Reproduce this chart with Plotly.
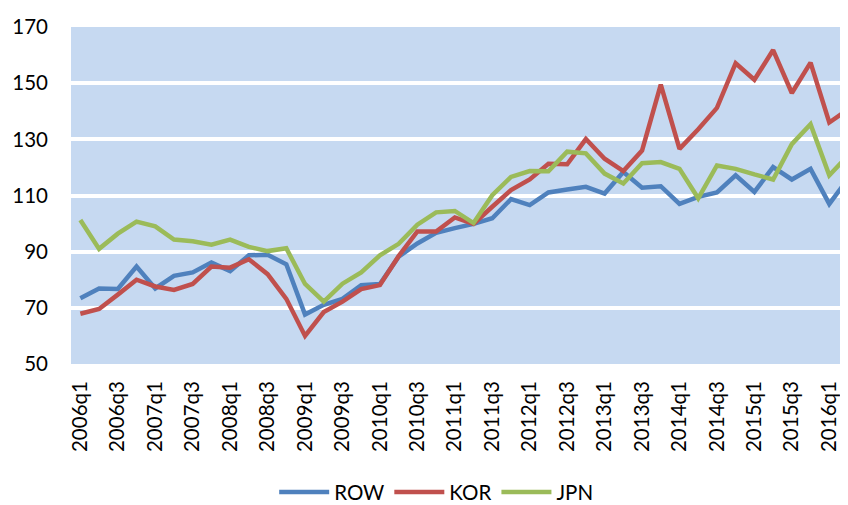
import plotly.graph_objects as go

quarters = [f"{y}q{q}" for y in range(2006, 2017) for q in range(1, 5)][:42]

row = [73.4, 76.9, 76.7, 84.7, 76.9, 81.4, 82.6, 86.1, 83.1, 88.7, 88.9, 85.5,
       67.6, 71.1, 73.2, 78.1, 78.5, 88.2, 92.9, 96.7, 98.4, 99.9, 101.9, 108.7,
       106.6, 111.1, 112.1, 113.1, 110.7, 118.4, 112.8, 113.3, 107.0, 109.5, 111.1, 117.2,
       111.3, 120.1, 115.7, 119.5, 107.0, 116.0]
kor = [67.9, 69.6, 74.7, 80.0, 77.6, 76.4, 78.5, 84.7, 84.3, 87.3, 82.0, 73.2,
       60.0, 68.5, 72.2, 76.7, 78.1, 88.4, 97.2, 97.2, 102.2, 99.9, 106.0, 111.9,
       115.7, 121.3, 121.1, 130.1, 123.1, 118.7, 126.0, 149.5, 126.6, 133.6, 141.2, 157.1,
       151.2, 161.8, 146.5, 157.3, 136.0, 140.7]
jpn = [101.3, 91.0, 96.4, 100.7, 99.0, 94.3, 93.7, 92.5, 94.3, 91.7, 90.2, 91.2,
       78.5, 72.2, 78.6, 82.6, 88.7, 92.8, 99.6, 104.0, 104.5, 100.2, 110.1, 116.6,
       118.7, 118.6, 125.6, 125.0, 117.8, 114.3, 121.5, 121.9, 119.5, 109.0, 120.7, 119.5,
       117.5, 115.7, 128.3, 135.4, 117.2, 124.2]

series = [("ROW", row, "#4F81BD"), ("KOR", kor, "#C0504D"), ("JPN", jpn, "#9BBB59")]
tick_labels = quarters[::2]
y_ticks = [50, 70, 90, 110, 130, 150, 170]

fig = go.Figure()
for name, vals, color in series:
    fig.add_trace(go.Scatter(x=quarters, y=vals, name=name, mode="lines",
                             line=dict(color=color, width=4.5)))

fig.update_layout(
    width=840, height=497,
    margin=dict(l=63, r=0, t=19, b=141, autoexpand=False),
    paper_bgcolor="white", plot_bgcolor="#C6D9F1",
    font=dict(family="Lato, Carlito, Calibri, sans-serif", size=20.5, color="black"),
    showlegend=True,
    legend=dict(orientation="h", x=0.47, xanchor="center", y=0.026, yanchor="middle",
                yref="container", itemwidth=50, font=dict(size=20.5),
                bgcolor="rgba(0,0,0,0)"),
)
fig.update_xaxes(type="category", range=[-0.5, 41], tickmode="array",
                 tickvals=tick_labels, ticktext=tick_labels, tickangle=-90,
                 showgrid=False, showline=False, zeroline=False, ticks="",
                 ticklabelstandoff=12, automargin=False)
fig.update_yaxes(range=[50, 170], tickvals=y_ticks, showgrid=True, gridcolor="white",
                 gridwidth=3.5, zeroline=False, showline=False, ticks="",
                 ticklabelstandoff=22, automargin=False)

fig.write_html("out.html")
